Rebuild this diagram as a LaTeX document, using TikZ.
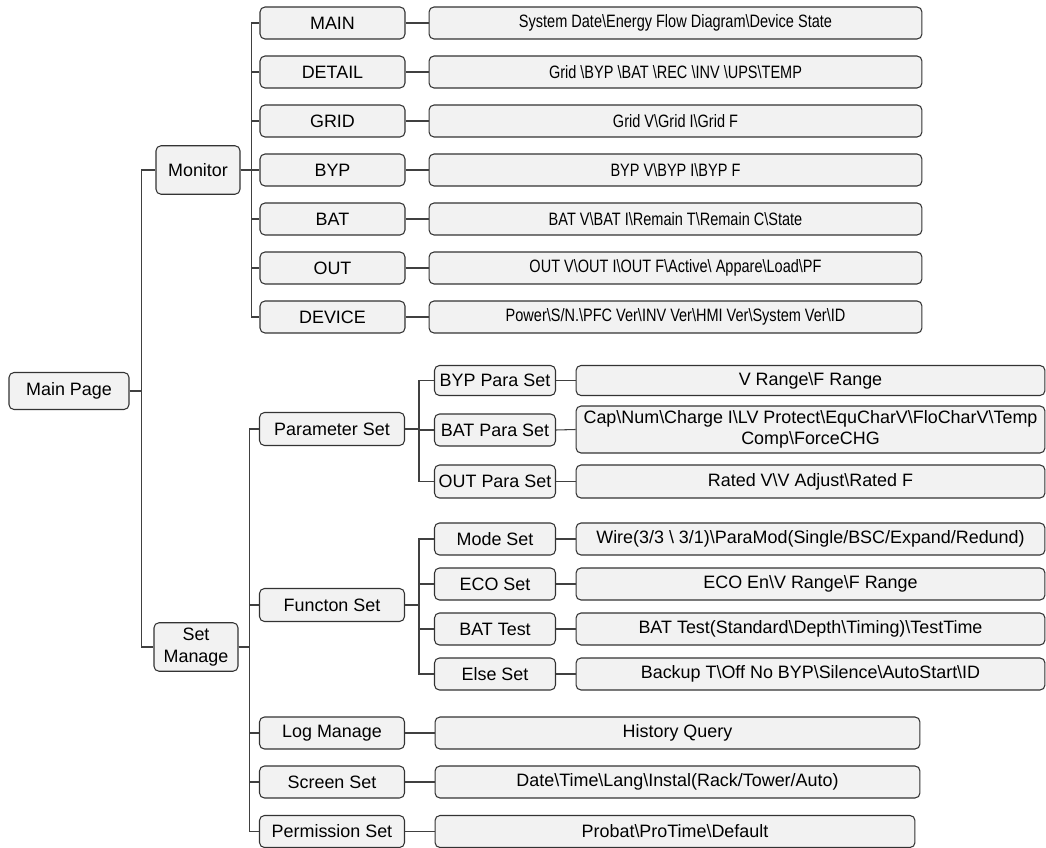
\documentclass[tikz,border=0pt]{standalone}
\usepackage{fontspec}
\setmainfont{Liberation Sans}
\newfontfamily\narrowfont[FakeStretch=0.81]{Liberation Sans}
\usepackage{tikz}
\usetikzlibrary{positioning}
\newcommand{\bksl}{\textbackslash}

\begin{document}
\begin{tikzpicture}[
  x=0.02cm, y=-0.02cm,
  font=\fontsize{10.2}{12.3}\selectfont,
  base/.style={draw=black!80, fill=black!5, line width=0.6pt, rounded corners=2.8pt, align=center, inner sep=1pt, minimum height=0.64cm},
  root/.style={base, minimum width=2.4cm, minimum height=0.74cm},
  branch/.style={base, minimum width=1.68cm, minimum height=0.97cm},
  item/.style={base, minimum width=2.9cm},
  sub/.style={base, minimum width=2.42cm},
  wide/.style={base, minimum width=9.86cm, font=\narrowfont\fontsize{10.2}{12.3}\selectfont},
  leaf/.style={base, minimum width=9.38cm},
  tail/.style={base, minimum width=9.7cm},
  link/.style={draw=black!75, line width=0.6pt},
]
  \useasboundingbox (0,0) rectangle (1046,848);

  \node[root] (home) at (69,391) {Main Page};
  \node[branch] (monitor) at (198,170) {Monitor};
  \node[branch] (setman) at (196,647) {Set\\Manage};

  % Monitor
  \node[item] (main) at (332.5,23) {MAIN};
  \node[item] (detail) at (332.5,72) {DETAIL};
  \node[item] (grid) at (332.5,121) {GRID};
  \node[item] (byp) at (332.5,170) {BYP};
  \node[item] (bat) at (332.5,219) {BAT};
  \node[item] (out) at (332.5,268) {OUT};
  \node[item] (device) at (332.5,317) {DEVICE};

  \node[wide] (main-l) at (675.5,23) {System Date\bksl Energy Flow Diagram\bksl Device State};
  \node[wide] (detail-l) at (675.5,72) {Grid \bksl BYP \bksl BAT \bksl REC \bksl INV \bksl UPS\bksl TEMP};
  \node[wide] (grid-l) at (675.5,121) {Grid V\bksl Grid I\bksl Grid F};
  \node[wide] (byp-l) at (675.5,170) {BYP V\bksl BYP I\bksl BYP F};
  \node[wide] (bat-l) at (675.5,219) {BAT V\bksl BAT I\bksl Remain T\bksl Remain C\bksl State};
  \node[wide] (out-l) at (675.5,268) {OUT V\bksl OUT I\bksl OUT F\bksl Active\bksl{} Appare\bksl Load\bksl PF};
  \node[wide] (device-l) at (675.5,317) {Power\bksl S/N.\bksl PFC Ver\bksl INV Ver\bksl HMI Ver\bksl System Ver\bksl ID};

  % Set Manage
  \node[item, minimum height=0.66cm] (param) at (332,429) {Parameter Set};
  \node[item, minimum height=0.66cm] (func) at (332,605) {Functon Set};
  \node[item] (log) at (332,733) {Log Manage};
  \node[item] (screen) at (332,782) {Screen Set};
  \node[item] (perm) at (332,831.5) {Permission Set};

  \node[tail] (log-l) at (677.5,733) {History Query};
  \node[tail] (screen-l) at (677.5,782) {Date\bksl Time\bksl Lang\bksl Instal(Rack/Tower/Auto)};
  \node[tail, minimum width=9.6cm] (perm-l) at (675,831.5) {Probat\bksl ProTime\bksl Default};

  \node[sub, minimum height=0.6cm] (byppara) at (495,380.5) {BYP Para Set};
  \node[sub] (batpara) at (495,430) {BAT Para Set};
  \node[sub, minimum height=0.66cm] (outpara) at (495,481.5) {OUT Para Set};

  \node[leaf, minimum height=0.6cm] (byppara-l) at (810.5,380.5) {V Range\bksl F Range};
  \node[leaf, minimum height=0.94cm] (batpara-l) at (810.5,429.5) {Cap\bksl Num\bksl Charge I\bksl LV Protect\bksl EquCharV\bksl FloCharV\bksl Temp\\Comp\bksl ForceCHG};
  \node[leaf, minimum height=0.66cm] (outpara-l) at (810.5,481.5) {Rated V\bksl V Adjust\bksl Rated F};

  \node[sub] (mode) at (495,539) {Mode Set};
  \node[sub] (eco) at (495,584) {ECO Set};
  \node[sub] (battest) at (495,629) {BAT Test};
  \node[sub] (elseset) at (495,674) {Else Set};

  \node[leaf] (mode-l) at (810.5,539) {Wire(3/3 \bksl{} 3/1)\bksl ParaMod(Single/BSC/Expand/Redund)};
  \node[leaf] (eco-l) at (810.5,584) {ECO En\bksl V Range\bksl F Range};
  \node[leaf] (battest-l) at (810.5,629) {BAT Test(Standard\bksl Depth\bksl Timing)\bksl TestTime};
  \node[leaf] (elseset-l) at (810.5,674) {Backup T\bksl Off No BYP\bksl Silence\bksl AutoStart\bksl ID};

  \draw[link] (home.east) -- ++(12,0) |- (monitor.west);
  \draw[link] (home.east) -- ++(12,0) |- (setman.west);
  \foreach \n in {main,detail,grid,byp,bat,out,device}
    \draw[link] (monitor.east) -- ++(11,0) |- (\n.west);
  \foreach \n in {param,func,log,screen,perm}
    \draw[link] (setman.east) -- ++(11,0) |- (\n.west);
  \foreach \n in {byppara,batpara,outpara}
    \draw[link] (param.east) -- ++(14,0) |- (\n.west);
  \foreach \n in {mode,eco,battest,elseset}
    \draw[link] (func.east) -- ++(14,0) |- (\n.west);
  \foreach \n in {main,detail,grid,byp,bat,out,device,log,screen,perm,byppara,batpara,outpara,mode,eco,battest,elseset}
    \draw[link] (\n.east) -- (\n-l.west);
\end{tikzpicture}
\end{document}
